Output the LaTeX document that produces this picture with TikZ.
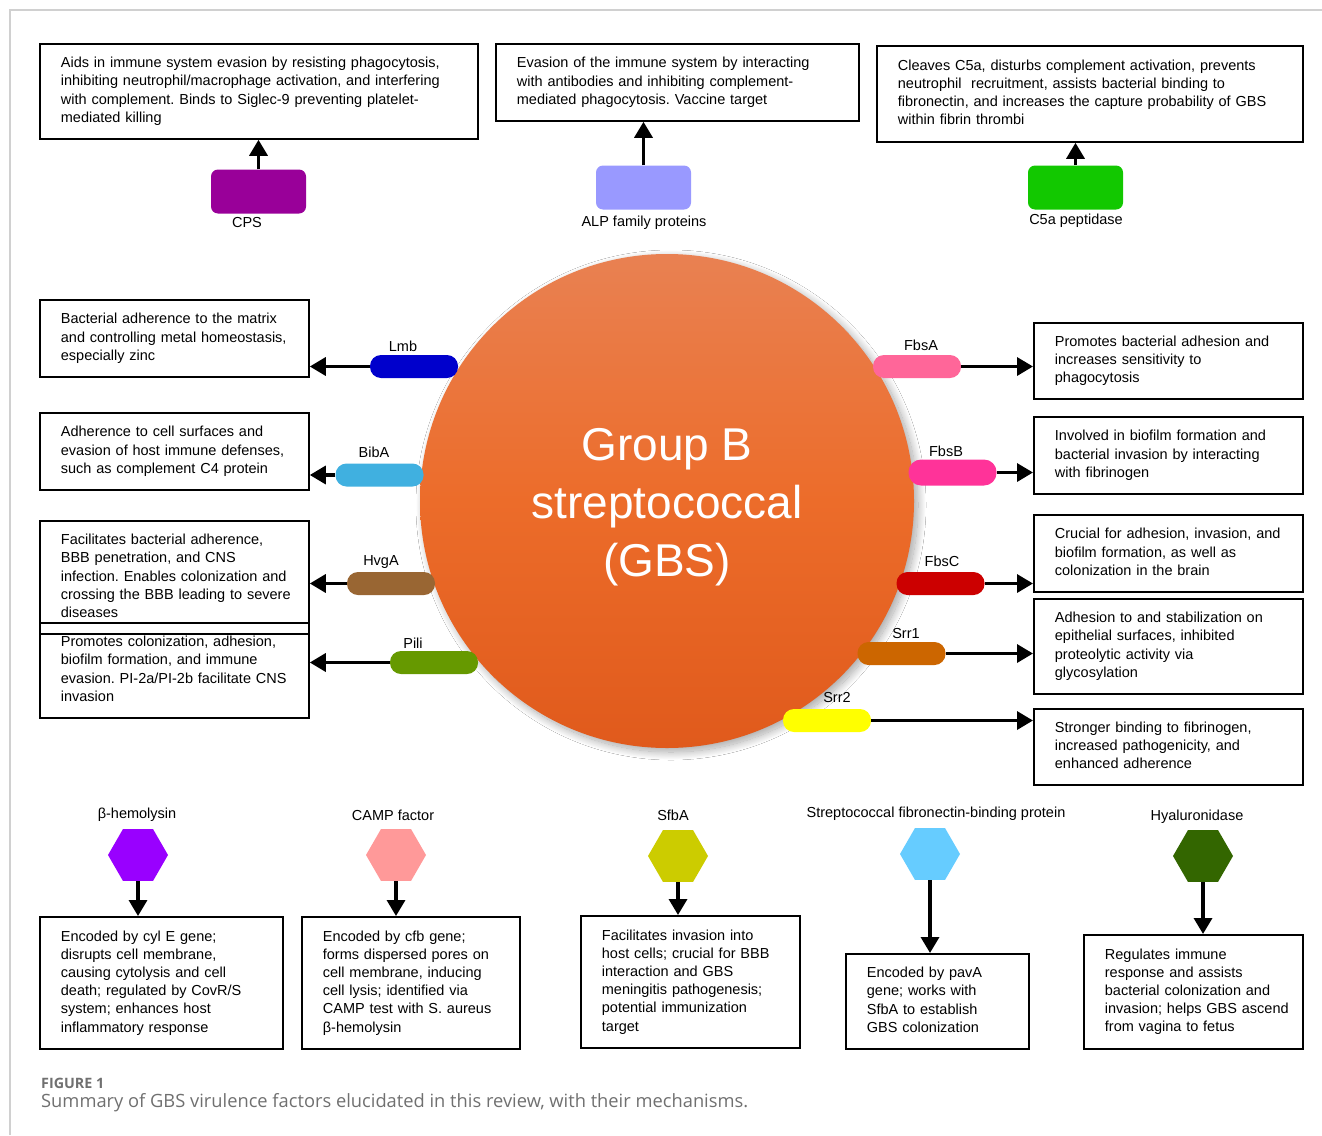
\documentclass[tikz,border=0pt]{standalone}
\usepackage{fontspec}
\setmainfont{Liberation Sans}
\newfontfamily\capfont{Open Sans}
\usetikzlibrary{arrows.meta,shapes.geometric,shadows.blur}
\newcommand{\boxlines}[1]{\begin{tabular}{@{}l@{}}#1\end{tabular}}
\definecolor{cCPS}{HTML}{990099}
\definecolor{cALP}{HTML}{9999FF}
\definecolor{cC5a}{HTML}{12C800}
\definecolor{cLmb}{HTML}{0000CC}
\definecolor{cBibA}{HTML}{40B0E0}
\definecolor{cHvgA}{HTML}{996633}
\definecolor{cPili}{HTML}{669900}
\definecolor{cFbsA}{HTML}{FF6699}
\definecolor{cFbsB}{HTML}{FF3399}
\definecolor{cFbsC}{HTML}{CC0000}
\definecolor{cSrrA}{HTML}{CC6600}
\definecolor{cSrrB}{HTML}{FFFF00}
\definecolor{cHemo}{HTML}{9900FF}
\definecolor{cCAMP}{HTML}{FF9999}
\definecolor{cSfbA}{HTML}{CCCC00}
\definecolor{cSfbp}{HTML}{66CCFF}
\definecolor{cHyal}{HTML}{336600}
\definecolor{gbsTop}{HTML}{E98152}
\definecolor{gbsMid}{HTML}{EC6C2A}
\definecolor{gbsBot}{HTML}{E05A1C}
\definecolor{frameGray}{HTML}{D0D0D0}
\definecolor{capGray}{HTML}{707070}
\begin{document}
\frenchspacing
\begin{tikzpicture}[x=1pt,y=-1pt,
  desc/.style={draw=black, line width=1.8pt, anchor=north west, align=left,
    inner xsep=21pt, inner ysep=0pt, font=\fontsize{14.5}{18.2}\selectfont},
  pill/.style={rounded corners=11pt, minimum width=88pt, minimum height=23pt, inner sep=0pt},
  topbox/.style={rounded corners=7pt, minimum width=95pt, minimum height=44pt, inner sep=0pt},
  hex/.style={regular polygon, regular polygon sides=6, minimum size=60pt, inner sep=0pt},
  lbl/.style={font=\fontsize{14.5}{16}\selectfont, inner sep=0pt},
  arr/.style={line width=3.4pt, -{Triangle[length=16pt,width=18pt]}},
]
\useasboundingbox (0,0) rectangle (1322,1135);
\fill[white] (0,0) rectangle (1322,1135);
\draw[frameGray, line width=1.5pt] (10,1135) -- (10,10) -- (1322,10);

% central circle
\node[circle, minimum size=494pt, inner sep=0pt, top color=gbsTop, bottom color=gbsBot, middle color=gbsMid,
  blur shadow={shadow xshift=4pt, shadow yshift=-4pt, shadow blur radius=8pt, shadow blur steps=20, shadow opacity=35}]
  (gbs) at (667,501) {};
\node[text=white, align=center, inner sep=0pt, font=\fontsize{46}{58}\selectfont] (gbstxt) at (667,507)
  {Group B\\streptococcal\\(GBS)};

% ---------- top row ----------
\node[desc, text width=396pt, minimum height=95pt] (cpsbox) at (39,43) {\boxlines{%
Aids in immune system evasion by resisting phagocytosis,\\
inhibiting neutrophil/macrophage activation, and interfering\\
with complement. Binds to Siglec-9 preventing platelet-\\
mediated killing}};
\node[topbox, fill=cCPS] (cps) at (258.5,191.5) {};
\node[lbl] (cpslbl) at (247,223) {CPS};
\draw[arr] (cps.north) -- (cps.north |- cpsbox.south);

\node[desc, text width=321pt, minimum height=77pt] (alpbox) at (495,43) {\boxlines{%
Evasion of the immune system by interacting\\
with antibodies and inhibiting complement-\\
mediated phagocytosis. Vaccine target}};
\node[topbox, fill=cALP] (alp) at (643.5,187.5) {};
\node[lbl] (alplbl) at (644,223) {ALP family proteins};
\draw[arr] (alp.north) -- (alp.north |- alpbox.south);

\node[desc, text width=384pt, minimum height=96pt] (c5abox) at (876,45) {\boxlines{%
Cleaves C5a, disturbs complement activation, prevents\\
neutrophil\ \ recruitment, assists bacterial binding to\\
fibronectin, and increases the capture probability of GBS\\
within fibrin thrombi}};
\node[topbox, fill=cC5a] (c5a) at (1075.5,187.5) {};
\node[lbl] (c5albl) at (1076,221) {C5a peptidase};
\draw[arr] (c5a.north) -- (c5a.north |- c5abox.south);

% ---------- left column ----------
\node[desc, text width=227pt, minimum height=77pt] (lmbbox) at (39,299) {\boxlines{%
Bacterial adherence to the matrix\\
and controlling metal homeostasis,\\
especially zinc}};
\node[pill, fill=cLmb] (lmb) at (414,366.5) {};
\node[lbl] (lmblbl) at (403,346) {Lmb};
\draw[arr] (lmb.west) -- (lmb.west -| lmbbox.east);

\node[desc, text width=227pt, minimum height=77pt] (bibabox) at (39,412) {\boxlines{%
Adherence to cell surfaces and\\
evasion of host immune defenses,\\
such as complement C4 protein}};
\node[pill, fill=cBibA] (biba) at (379.5,475) {};
\node[lbl] (bibalbl) at (374,452) {BibA};
\draw[arr] (biba.west) -- (biba.west -| bibabox.east);

\node[desc, text width=227pt, minimum height=113pt] (hvgabox) at (39,520) {\boxlines{%
Facilitates bacterial adherence,\\
BBB penetration, and CNS\\
infection. Enables colonization and\\
crossing the BBB leading to severe\\
diseases}};
\node[pill, fill=cHvgA] (hvga) at (391,583.5) {};
\node[lbl] (hvgalbl) at (381,562) {HvgA};
\draw[arr] (hvga.west) -- (hvga.west -| hvgabox.east);

\node[desc, text width=227pt, minimum height=95pt] (pilibox) at (39,622) {\boxlines{%
Promotes colonization, adhesion,\\
biofilm formation, and immune\\
evasion. PI-2a/PI-2b facilitate CNS\\
invasion}};
\node[pill, fill=cPili] (pili) at (434,662.5) {};
\node[lbl] (pililbl) at (413,643) {Pili};
\draw[arr] (pili.west) -- (pili.west -| pilibox.east);

% ---------- right column ----------
\node[desc, text width=227pt, minimum height=76pt] (fbsabox) at (1033,322) {\boxlines{%
Promotes bacterial adhesion and\\
increases sensitivity to\\
phagocytosis}};
\node[pill, fill=cFbsA] (fbsa) at (917,366.5) {};
\node[lbl] (fbsalbl) at (921,345) {FbsA};
\draw[arr] (fbsa.east) -- (fbsa.east -| fbsabox.west);

\node[desc, text width=227pt, minimum height=77pt] (fbsbbox) at (1033,416) {\boxlines{%
Involved in biofilm formation and\\
bacterial invasion by interacting\\
with fibrinogen}};
\node[pill, fill=cFbsB, minimum height=26pt, rounded corners=12.5pt] (fbsb) at (952.5,472.5) {};
\node[lbl] (fbsblbl) at (946,451) {FbsB};
\draw[arr] (fbsb.east) -- (fbsb.east -| fbsbbox.west);

\node[desc, text width=227pt, minimum height=77pt] (fbscbox) at (1033,514) {\boxlines{%
Crucial for adhesion, invasion, and\\
biofilm formation, as well as\\
colonization in the brain}};
\node[pill, fill=cFbsC] (fbsc) at (940.5,583.5) {};
\node[lbl] (fbsclbl) at (942,561) {FbsC};
\draw[arr] (fbsc.east) -- (fbsc.east -| fbscbox.west);

\node[desc, text width=227pt, minimum height=95pt] (srrabox) at (1033,598) {\boxlines{%
Adhesion to and stabilization on\\
epithelial surfaces, inhibited\\
proteolytic activity via\\
glycosylation}};
\node[pill, fill=cSrrA] (srra) at (901.5,653.5) {};
\node[lbl] (srralbl) at (906,633) {Srr1};
\draw[arr] (srra.east) -- (srra.east -| srrabox.west);

\node[desc, text width=227pt, minimum height=76pt] (srrbbox) at (1033,708) {\boxlines{%
Stronger binding to fibrinogen,\\
increased pathogenicity, and\\
enhanced adherence}};
\node[pill, fill=cSrrB] (srrb) at (827,720.5) {};
\node[lbl] (srrblbl) at (837,697) {Srr2};
\draw[arr] (srrb.east) -- (srrb.east -| srrbbox.west);

% ---------- bottom row ----------
\node[lbl] (hemolbl) at (137,815) {β-hemolysin};
\node[hex, fill=cHemo] (hemo) at (138,855) {};
\node[desc, text width=201pt, minimum height=132pt] (hemobox) at (39,916) {\boxlines{%
Encoded by cyl E gene;\\
disrupts cell membrane,\\
causing cytolysis and cell\\
death; regulated by CovR/S\\
system; enhances host\\
inflammatory response}};
\draw[arr] (hemo.south) -- (hemo.south |- hemobox.north);

\node[lbl] (camplbl) at (393,815) {CAMP factor};
\node[hex, fill=cCAMP] (camp) at (396,855) {};
\node[desc, text width=176pt, minimum height=132pt] (campbox) at (301,916) {\boxlines{%
Encoded by cfb gene;\\
forms dispersed pores on\\
cell membrane, inducing\\
cell lysis; identified via\\
CAMP test with S. aureus\\
β-hemolysin}};
\draw[arr] (camp.south) -- (camp.south |- campbox.north);

\node[lbl] (sfbalbl) at (673,815) {SfbA};
\node[hex, fill=cSfbA] (sfba) at (678,856) {};
\node[desc, text width=177pt, minimum height=132pt] (sfbabox) at (580,915) {\boxlines{%
Facilitates invasion into\\
host cells; crucial for BBB\\
interaction and GBS\\
meningitis pathogenesis;\\
potential immunization\\
target}};
\draw[arr] (sfba.south) -- (sfba.south |- sfbabox.north);

\node[lbl] (sfbplbl) at (936,814) {Streptococcal fibronectin-binding protein};
\node[hex, fill=cSfbp] (sfbp) at (930,854) {};
\node[desc, text width=141pt, minimum height=95pt] (sfbpbox) at (845,953) {\boxlines{%
Encoded by pavA\\
gene; works with\\
SfbA to establish\\
GBS colonization}};
\draw[arr] (sfbp.south) -- (sfbp.south |- sfbpbox.north);

\node[lbl] (hyallbl) at (1197,817) {Hyaluronidase};
\node[hex, fill=cHyal] (hyal) at (1203,856) {};
\node[desc, text width=177pt, minimum height=114pt] (hyalbox) at (1083,934) {\boxlines{%
Regulates immune\\
response and assists\\
bacterial colonization and\\
invasion; helps GBS ascend\\
from vagina to fetus}};
\draw[arr] (hyal.south) -- (hyal.south |- hyalbox.north);

% ---------- caption ----------
\node[anchor=west, inner sep=0pt, text=capGray, font=\capfont\bfseries\fontsize{14.3}{16}\selectfont] (figlbl) at (41,1083.5) {FIGURE 1};
\node[anchor=west, inner sep=0pt, text=capGray, font=\capfont\fontsize{18.3}{22}\selectfont] (figcap) at (41,1103)
  {Summary of GBS virulence factors elucidated in this review, with their mechanisms.};
\end{tikzpicture}
\end{document}
